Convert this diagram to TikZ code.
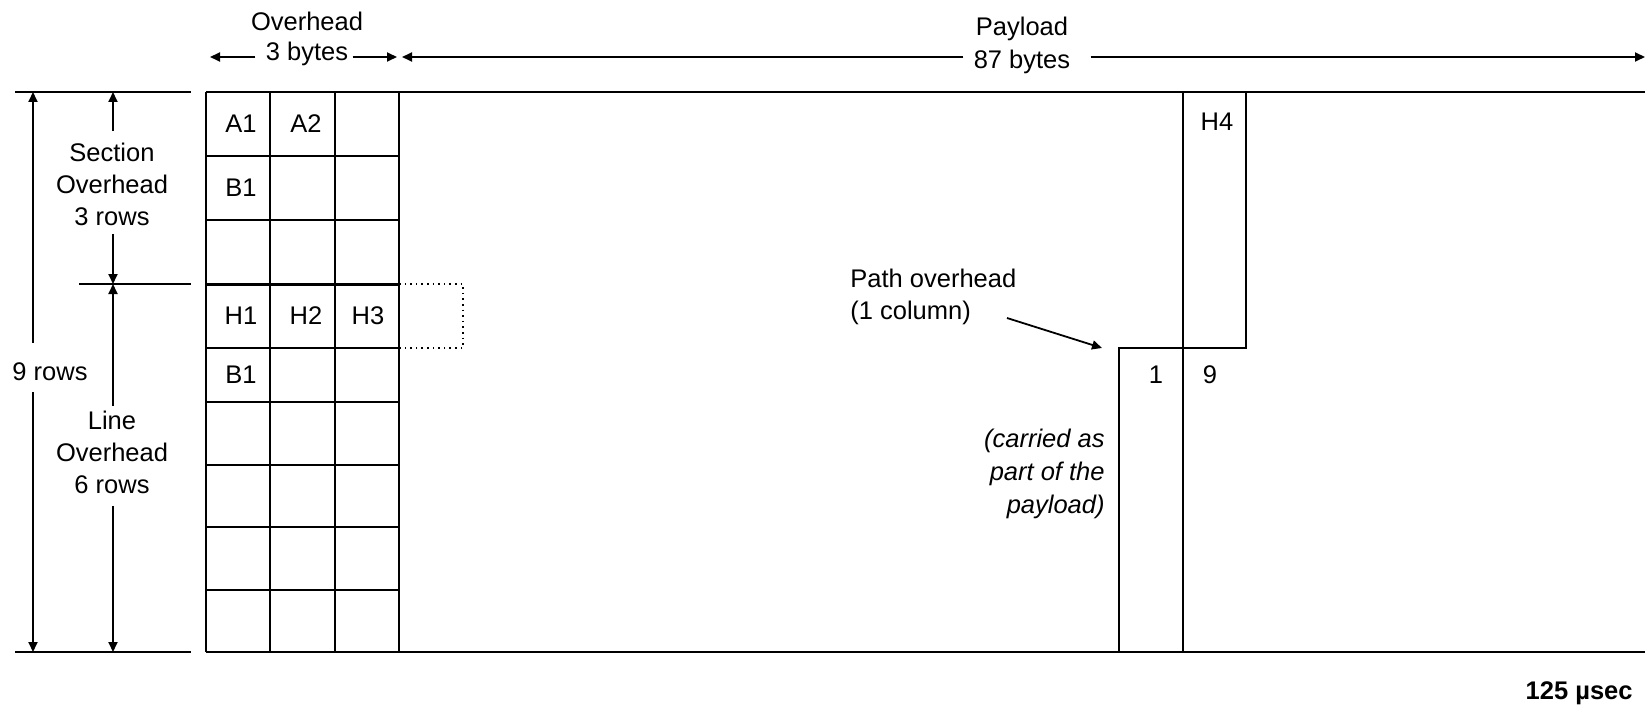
\documentclass[tikz,border=0pt]{standalone}
\usepackage{fontspec}
\setmainfont{Liberation Sans}
\usetikzlibrary{arrows.meta,calc}
\tikzset{
  frameline/.style={line width=1pt},
  dimline/.style={line width=0.9pt,-{Triangle[length=5pt,width=4.5pt]}},
  lbl/.style={inner sep=0pt,align=center},
}
\begin{document}
\begin{tikzpicture}[x=0.5pt,y=-0.5pt,font=\fontsize{12.75}{16}\selectfont]
\useasboundingbox (0,0) rectangle (1645,706);
% reference points
\coordinate (frametop) at (206,92);
\coordinate (linetop) at (206,284);
\coordinate (framebot) at (206,652);
\coordinate (outer) at (33,0);
\coordinate (inner) at (113,0);
\coordinate (ohleft) at (210,57);
\coordinate (ohright) at (397,57);
\coordinate (plleft) at (402,57);
\coordinate (plright) at (1645,57);
\coordinate (stepcorner) at (1119,348);
\coordinate (pathtail) at (1007,318);
% overhead bytes
\foreach \x in {206,270,335,399}
  \draw[frameline] (\x,92) -- (\x,652);
\foreach \y in {156,220,348,402,465,527,590}
  \draw[frameline] (206,\y) -- (399,\y);
\draw[line width=1.5pt] (linetop) -- (399,284);
% frame
\draw[frameline] (frametop) -- (1645,92);
\draw[frameline] (framebot) -- (1645,652);
\draw[line width=0.8pt,dotted] (399,284) -- (463,284) -- (463,348) -- (399,348);
% path overhead column
\draw[frameline] (1183,92) -- (1183,652);
\draw[frameline] (1119,652) -- (stepcorner) -- (1246,348) -- (1246,92);
% row markers on the left
\draw[frameline] (15,92) -- (191,92);
\draw[frameline] (79,284) -- (191,284);
\draw[frameline] (15,652) -- (191,652);
% byte labels
\foreach \cx/\cy/\txt/\nm in {241/124/A1/a1, 306/124/A2/a2, 241/188/B1/b1s,
    241/316/H1/h1, 306/316/H2/h2, 368/316/H3/h3, 241/375/B1/b1l,
    1217/122/H4/h4, 1156/375/1/pone, 1210/375/9/pnine}
  \node (\nm) at (\cx,\cy) {\txt};
% row dimensions
\node[lbl] (secoh) at (112,184) {Section\\Overhead\\3 rows};
\node[lbl] (lineoh) at (112,452) {Line\\Overhead\\6 rows};
\node[lbl] (rows9) at (50,372) {9 rows};
\draw[dimline] ($(secoh.north -| inner)+(0,-11)$) -- (inner |- frametop);
\draw[dimline] ($(secoh.south -| inner)+(0,8)$) -- (inner |- linetop);
\draw[dimline] ($(lineoh.north -| inner)+(0,-4)$) -- (inner |- linetop);
\draw[dimline] ($(lineoh.south -| inner)+(0,12)$) -- (inner |- framebot);
\draw[dimline] ($(rows9.north -| outer)+(0,-20)$) -- (outer |- frametop);
\draw[dimline] ($(rows9.south -| outer)+(0,11)$) -- (outer |- framebot);
% column dimensions
\node[lbl] (ohname) at (307,21) {Overhead};
\node[lbl] (ohsize) at (307,54) {3 bytes};
\node[lbl] (plname) at (1022,29) {Payload};
\node[lbl] (plsize) at (1022,62) {87 bytes};
\draw[dimline] ($(ohsize.west |- ohleft)+(-10,0)$) -- (ohleft);
\draw[dimline] ($(ohsize.east |- ohright)+(4,0)$) -- (ohright);
\draw[dimline] ($(plsize.west |- plleft)+(-10,0)$) -- (plleft);
\draw[dimline] ($(plsize.east |- plright)+(20,0)$) -- (plright);
% path overhead note
\node[lbl,anchor=west,align=left] (pathoh) at (850,297) {Path overhead\\(1 column)};
\draw[dimline] (pathtail) -- ($(stepcorner)+(-17,0)$);
\node[lbl,anchor=east,align=right,font=\fontsize{12.75}{16.5}\selectfont\itshape] (carried) at (1105,474) {(carried as\\part of the\\payload)};
\node[lbl,anchor=east,font=\fontsize{12.75}{16}\selectfont\bfseries] (period) at (1633,693) {125 µsec};
\end{tikzpicture}
\end{document}
